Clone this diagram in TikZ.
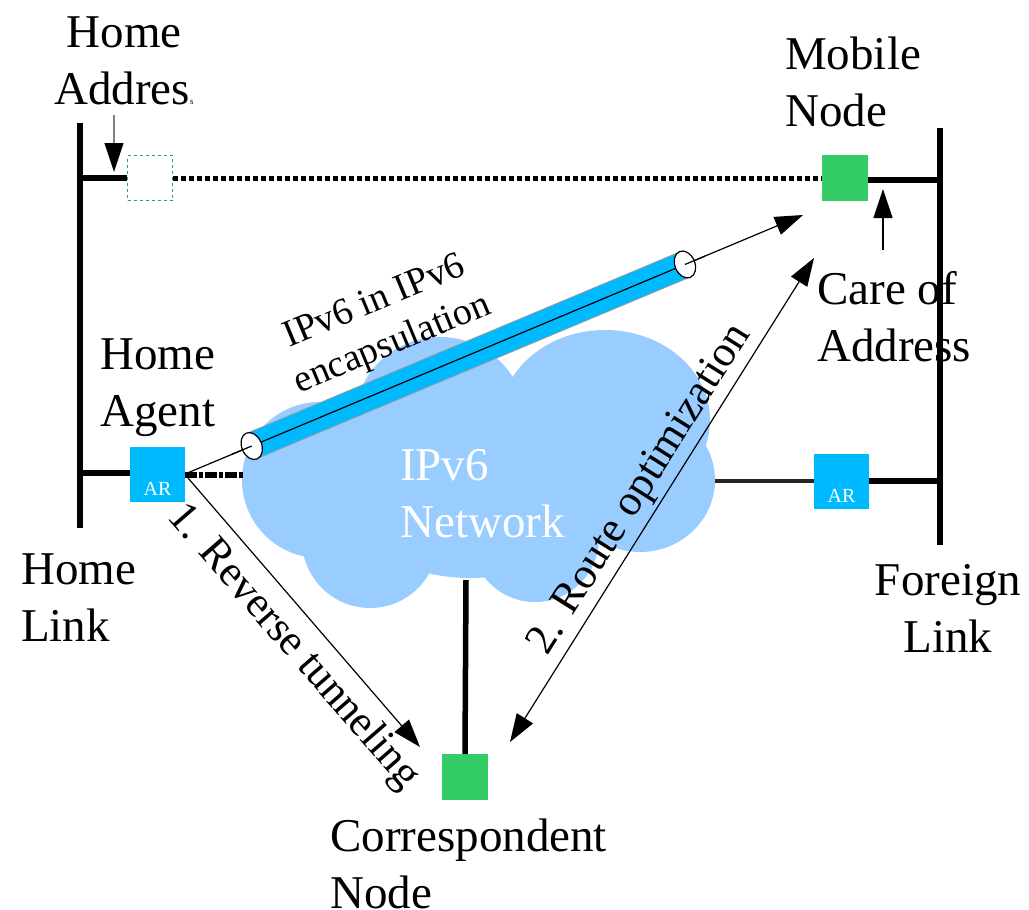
\documentclass[tikz,border=0pt]{standalone}
\usepackage{fontspec}
\setmainfont{Liberation Serif}
\usetikzlibrary{arrows.meta,calc}
\definecolor{nodegreen}{RGB}{52,204,102}
\definecolor{arcyan}{RGB}{0,186,255}
\definecolor{cloudblue}{RGB}{153,204,255}
\tikzset{
  lbl/.style={font=\fontsize{47}{57}\selectfont, inner sep=0pt},
  rlbl/.style={font=\fontsize{43.5}{50}\selectfont, inner sep=0pt},
  host/.style={fill=nodegreen, minimum size=46pt, inner sep=0pt},
  router/.style={fill=arcyan, minimum size=55pt, inner sep=0pt},
  arlabel/.style={font=\fontsize{20}{20}\selectfont, text=white, inner sep=0pt},
  linkbar/.style={line width=5.5pt},
  bigtip/.style={-{Triangle[length=28pt,width=19pt]}},
  fine/.style={line width=1.2pt},
}
\begin{document}
\begin{tikzpicture}[x=1pt,y=-1pt]
\useasboundingbox (0,0) rectangle (1029,910);

% IPv6 cloud
\begin{scope}
  \fill[cloudblue] (320,480) circle (78);
  \fill[cloudblue] (440,420) ellipse (85 and 83);
  \fill[cloudblue] (605,420) ellipse (105 and 90);
  \fill[cloudblue] (640,480) ellipse (75 and 72);
  \fill[cloudblue] (370,540) circle (68);
  \fill[cloudblue] (470,495) ellipse (125 and 83);
  \fill[cloudblue] (535,538) circle (64);
  \fill[cloudblue] (560,470) ellipse (110 and 70);
\end{scope}
\node[lbl, text=white, align=left, anchor=west] (net) at (400,494) {IPv6\\Network};

% links
\coordinate (hlt) at (80,123);
\coordinate (hlb) at (80,528);
\coordinate (flt) at (940,128);
\coordinate (flb) at (940,545);
\draw[linkbar] (hlt) -- (hlb);
\draw[linkbar] (flt) -- (flb);

% nodes
\node[host] (mn) at (845,178) {};
\node[draw=nodegreen!80!black, dashed, line width=1pt, minimum size=45pt, inner sep=0pt] (ha0) at (150,178) {};
\node[router] (ha) at (157.5,474) {};
\node[arlabel, anchor=base] at (157.5,495) {AR};
\node[router] (far) at (841.5,481) {};
\node[arlabel, anchor=base] at (841.5,502) {AR};
\node[host] (cn) at (465,777) {};

% link attachments
\draw[linkbar] (80,178) -- (ha0.west);
\draw[line width=5pt, dash pattern=on 5pt off 3pt] (ha0.east) -- (mn.west);
\draw[linkbar] (mn.east |- 0,180) -- (940,180);
\draw[linkbar] (80,473) -- (ha.west |- 0,473);
\draw[line width=5.5pt, dash pattern=on 12pt off 2pt on 4pt off 2pt] (ha.east |- 0,475) -- (244,475);
\draw[line width=4pt, black!85] (715,481) -- (far.west);
\draw[linkbar] (far.east) -- (940,481);
\draw[linkbar] (466,580) -- (cn.north);

% tunnel
\coordinate (hap) at (185,474);
\coordinate (mnt) at (803,215);
\coordinate (ta) at ($(hap)!0.108!(mnt)$);
\coordinate (tb) at ($(hap)!0.809!(mnt)$);
\draw[line width=28pt, gray!80] (ta) -- (tb);
\draw[line width=26pt, arcyan] (ta) -- (tb);
\draw[fine, bigtip] (hap) -- (mnt);
\draw[fill=white, fine, rotate around={22.6:(ta)}] (ta) ellipse (10 and 14);
\draw[fill=white, fine, rotate around={22.6:(tb)}] (tb) ellipse (10 and 14);
\draw[fine] (ta) -- +(-20,8.3);
\draw[fine] (tb) -- +(20,-8.3);
\node[rlbl, font=\fontsize{38}{46}\selectfont, align=center, rotate=22.6] (enc) at (384,324) {IPv6 in IPv6\\encapsulation};

% reverse tunneling and route optimization
\coordinate (rt0) at (188,478);
\coordinate (rt1) at (420,747);
\draw[fine, bigtip] (rt0) -- (rt1);
\node[rlbl, rotate=-49] (rtl) at (293,647) {1. Reverse tunneling};
\coordinate (ro0) at (510,742);
\coordinate (ro1) at (814,258);
\draw[fine, {Triangle[length=28pt,width=19pt]}-{Triangle[length=28pt,width=19pt]}] (ro0) -- (ro1);
\node[rlbl, rotate=57.8] (rol) at (641,490) {2. Route optimization};

% address pointers
\coordinate (hap0) at (114,115);
\coordinate (coa0) at (883,250);
\draw[fine, gray, -{Triangle[length=29pt,width=19pt,black]}] (hap0) -- (114,172);
\draw[fine, -{Triangle[length=29pt,width=19pt]}] (coa0) -- (883,189);

% labels
\node[lbl, align=center] (lha) at (124,61) {Home\\Addres{\fontsize{9}{9}\selectfont s}};
\node[lbl, align=left, anchor=west] (lmn) at (785,82) {Mobile\\Node};
\node[lbl, align=left, anchor=west] (lcoa) at (817,317) {Care of\\Address};
\node[lbl, align=left, anchor=west] (lhag) at (100,388) {Home\\Agent};
\node[lbl, align=left, anchor=west] (lhl) at (21,598) {Home\\Link};
\node[lbl, align=center] (lfl) at (948,608) {Foreign\\Link};
\node[lbl, align=left, anchor=west] (lcn) at (330,864) {Correspondent\\Node};
\end{tikzpicture}
\end{document}
